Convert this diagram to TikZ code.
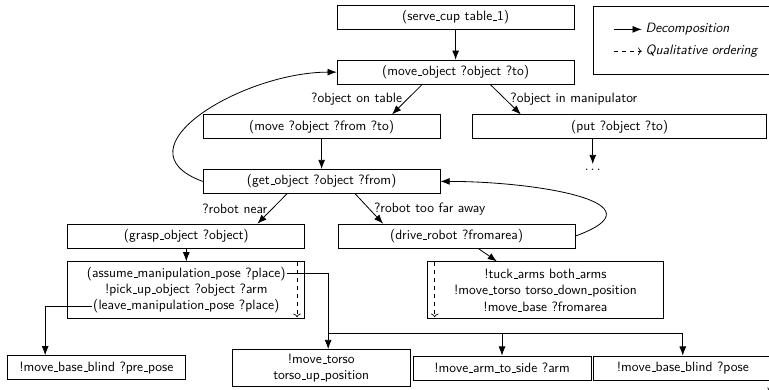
\documentclass[tikz,border=0pt]{standalone}
\usetikzlibrary{arrows.meta,positioning}
\renewcommand{\_}{\leavevmode\kern.06em\vbox{\hrule width.3em}}

\begin{document}
\begin{tikzpicture}[font=\sffamily, node distance=7.8mm and 8mm,
  task/.style={draw, line width=0.6pt, minimum width=61.6mm, minimum height=6.2mm, align=center, inner sep=2pt},
  prim/.style={task, minimum width=46.3mm},
  multi/.style={task, minimum height=14.8mm},
  rowtext/.style={inner sep=0.5pt, anchor=base},
  arr/.style={-{Latex[length=2.4mm,width=1.8mm]}, line width=0.6pt},
  order/.style={->, dashed, line width=0.5pt},
  legendbox/.style={draw, line width=0.6pt, minimum width=56mm, minimum height=17.7mm},
  legendtext/.style={font=\sffamily\itshape, inner sep=1pt}]
\useasboundingbox (0,0) rectangle (20cm,-10.14cm);
\node[task] (sc) at (11.85,-0.455) {(serve\_cup table\_1)};
\node[task, below=of sc] (mo) {(move\_object ?object ?to)};
\node[task, below=of mo, xshift=-34.85mm] (mv) {(move ?object ?from ?to)};
\node[task, right=8.3mm of mv, minimum width=76.4mm] (put) {(put ?object ?to)};
\node[below=6.5mm of put, xshift=-7mm] (dots) {$\ldots$};
\node[task, below=of mv] (get) {(get\_object ?object ?from)};
\node[task, below=of get, xshift=-35.2mm] (grasp) {(grasp\_object ?object)};
\node[task, below=of get, xshift=35.1mm] (drive) {(drive\_robot ?fromarea)};
\node[multi, below=3.4mm of grasp] (manip) {};
\node[rowtext] (assume) at ([yshift=3.4mm]manip) {(assume\_manipulation\_pose ?place)};
\node[rowtext] (pick) at ([yshift=-0.8mm]manip) {!pick\_up\_object ?object ?arm};
\node[rowtext] (leave) at ([yshift=-4.95mm]manip) {(leave\_manipulation\_pose ?place)};
\node[multi, below=3.4mm of drive, xshift=23.1mm] (tuck) {!tuck\_arms both\_arms\\!move\_torso torso\_down\_position\\!move\_base ?fromarea};
\node[prim, below=9.4mm of manip, xshift=-23.4mm] (pre) {!move\_base\_blind ?pre\_pose};
\node[prim, below=of manip, xshift=35.1mm, minimum height=9.6mm] (torso) {!move\_torso\\torso\_up\_position};
\node[prim, right=0.5mm of torso] (armside) {!move\_arm\_to\_side ?arm};
\node[prim, right=0.5mm of armside] (basepose) {!move\_base\_blind ?pose};
% legend
\node[legendbox, anchor=north west] (legend) at ([xshift=4.7mm,yshift=-0.3mm]sc.north east) {};
\coordinate (dec1) at ([xshift=5.5mm, yshift=-6mm]legend.north west);
\coordinate (dec2) at ([xshift=7.3mm]dec1);
\coordinate (qual1) at ([yshift=-5.7mm]dec1);
\coordinate (qual2) at ([yshift=-5.7mm]dec2);
\draw[arr] (dec1) -- (dec2);
\draw[order] (qual1) -- (qual2);
\node[legendtext, right=0.6mm of dec2] (dectext) {Decomposition};
\node[legendtext, right=0.6mm of qual2] (qualtext) {Qualitative ordering};
% decomposition
\draw[arr] (sc) -- (mo);
\draw[arr] ([xshift=-8.7mm]mo.south) -- node[midway, left] {?object on table} ([xshift=18.3mm]mv.north);
\draw[arr] ([xshift=9mm]mo.south) -- node[midway, right] {?object in manipulator} ([xshift=-25.7mm]put.north);
\draw[arr] (mv) -- (get);
\draw[arr] (dots |- put.south) -- (dots);
\draw[arr] (get.west) to[out=160, in=180, looseness=1.4] (mo.west);
\draw[arr] ([xshift=-9mm]get.south) -- node[midway, left] {?robot near} ([xshift=18.5mm]grasp.north);
\draw[arr] ([xshift=8.7mm]get.south) -- node[midway, right] {?robot too far away} ([xshift=-19.1mm]drive.north);
\draw[arr] (drive.east) to[out=20, in=0, looseness=1.7] (get.east);
\draw[arr] (grasp) -- (manip);
\draw[arr] ([xshift=5.6mm]drive.south) -- ([xshift=-12.6mm]tuck.north);
\draw[arr] (leave.west) -| ([xshift=-13.3mm]pre.north);
\draw[arr] (assume.east) -| ([xshift=1.8mm]torso.north);
\coordinate (fork) at ([xshift=1.8mm, yshift=4.2mm]torso.north);
\draw[arr] (fork) -| (armside.north);
\draw[arr] (fork) -| (basepose.north);
% ordering
\draw[order] ([xshift=-2.1mm]manip.north east) -- ([xshift=-2.1mm, yshift=0.5mm]manip.south east);
\draw[order] ([xshift=2.1mm]tuck.north west) -- ([xshift=2.1mm, yshift=0.5mm]tuck.south west);
\coordinate (ordstart) at ([xshift=-3.9mm, yshift=-1.1mm]torso.south east);
\coordinate (ordend) at ([xshift=-0.3mm]ordstart -| basepose.east);
\draw[order] (ordstart) -- (ordend);
\end{tikzpicture}
\end{document}
